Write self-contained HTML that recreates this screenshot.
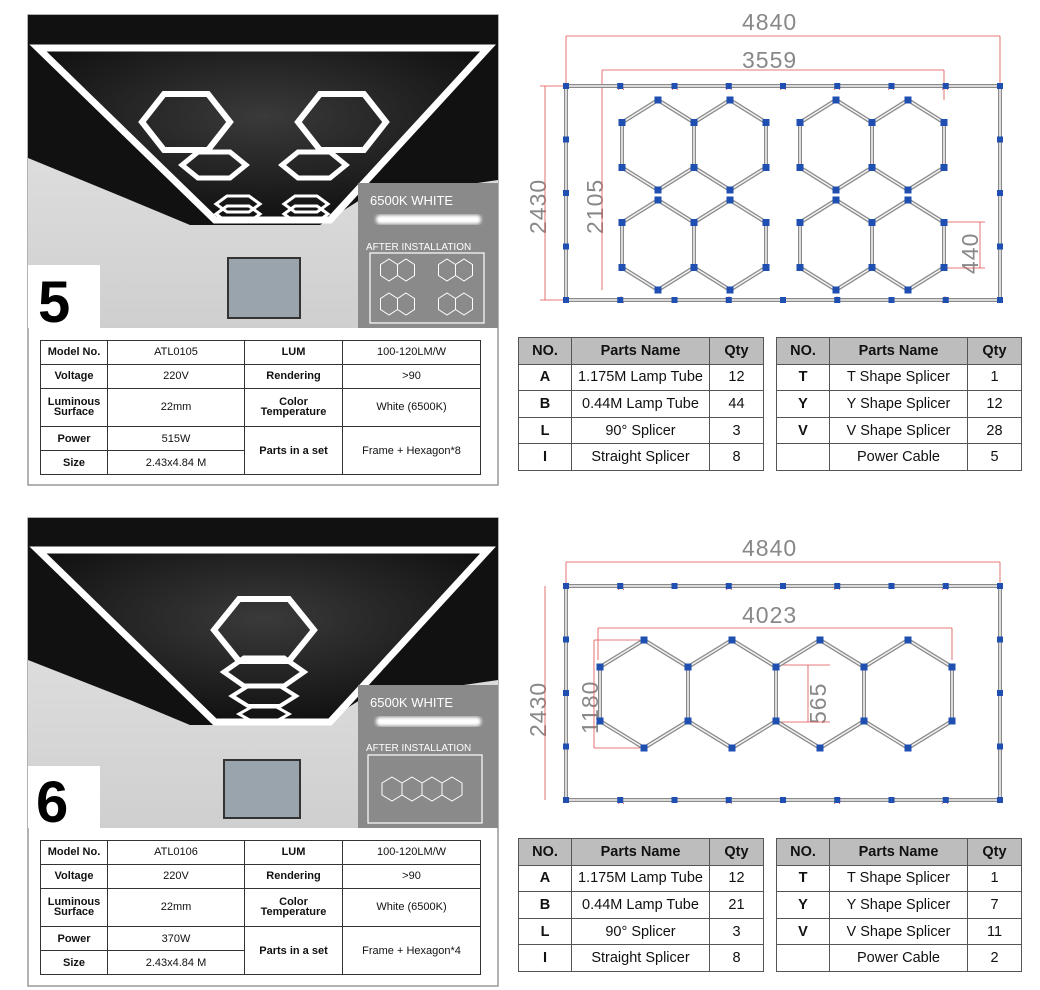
<!DOCTYPE html>
<html><head><meta charset="utf-8">
<style>
body{margin:0;width:1040px;height:990px;background:#fff;position:relative;overflow:hidden;font-family:"Liberation Sans",sans-serif}
svg{position:absolute;left:0;top:0}
table{border-collapse:collapse;position:absolute;font-family:"Liberation Sans",sans-serif}
.pt td,.pt th{border:1px solid #555;text-align:center;font-size:14.5px;color:#111;padding:0}
.pt th{background:#bdbdbd;font-weight:bold}
.st td{border:1px solid #333;text-align:center;font-size:11px;padding:0;color:#111}
.st td.b{font-weight:bold}
</style></head><body>
<svg width="1040" height="990" xmlns="http://www.w3.org/2000/svg" font-family="Liberation Sans, sans-serif">
<defs>
<linearGradient id="wall" x1="0" x2="0" y1="0" y2="1"><stop offset="0" stop-color="#e8e8e8"/><stop offset="1" stop-color="#cfcfcf"/></linearGradient>
<radialGradient id="ceil" cx="0.5" cy="0.4" r="0.6"><stop offset="0" stop-color="#3a3a3a"/><stop offset="1" stop-color="#111"/></radialGradient>
<filter id="gl"><feGaussianBlur stdDeviation="1.5"/></filter>
</defs>
<!-- panel 1 -->
<rect x="28" y="15" width="470" height="470" fill="#fff" stroke="#999" stroke-width="1.5"/>
<rect x="28" y="15" width="470" height="313" fill="url(#wall)"/>
<polygon points="28,15 498,15 498,180 360,200 320,225 190,225 130,200 28,158" fill="#111"/>
<polygon points="38,48 488,48 330,220 215,220" fill="url(#ceil)" stroke="#fff" stroke-width="7"/>
<rect x="358" y="183" width="140" height="145" fill="#8a8a8a"/>
<text x="370" y="205" font-size="13" fill="#fff">6500K WHITE</text>
<rect x="376" y="215" width="105" height="9" rx="4" fill="#fff" filter="url(#gl)"/>
<text x="366" y="250" font-size="10" fill="#fff">AFTER INSTALLATION</text>
<rect x="370" y="253" width="114" height="70" fill="none" stroke="#fff" stroke-width="1.2"/>
<rect x="228" y="258" width="72" height="60" fill="#9aa4ad" stroke="#333" stroke-width="2"/>
<rect x="28" y="265" width="72" height="63" fill="#fff"/>
<text x="38" y="322" font-size="58" font-weight="bold" fill="#000">5</text>
<!-- panel 2 -->
<rect x="28" y="518" width="470" height="468" fill="#fff" stroke="#999" stroke-width="1.5"/>
<rect x="28" y="518" width="470" height="310" fill="url(#wall)"/>
<polygon points="28,518 498,518 498,680 360,700 320,725 190,725 130,700 28,660" fill="#111"/>
<polygon points="38,550 488,550 330,722 215,722" fill="url(#ceil)" stroke="#fff" stroke-width="7"/>
<rect x="358" y="685" width="140" height="143" fill="#8a8a8a"/>
<text x="370" y="707" font-size="13" fill="#fff">6500K WHITE</text>
<rect x="376" y="717" width="105" height="9" rx="4" fill="#fff" filter="url(#gl)"/>
<text x="366" y="751" font-size="10" fill="#fff">AFTER INSTALLATION</text>
<rect x="368" y="755" width="114" height="68" fill="none" stroke="#fff" stroke-width="1.2"/>
<rect x="224" y="760" width="76" height="58" fill="#9aa4ad" stroke="#333" stroke-width="2"/>
<rect x="28" y="766" width="72" height="62" fill="#fff"/>
<text x="36" y="822" font-size="58" font-weight="bold" fill="#000">6</text>
<!-- drawing labels -->
<g fill="#888" font-size="23" letter-spacing="1">
<text x="742" y="30">4840</text>
<text x="742" y="68">3559</text>
<text x="742" y="556">4840</text>
<text x="742" y="623">4023</text>
<text transform="translate(546,234) rotate(-90)">2430</text>
<text transform="translate(603,234) rotate(-90)">2105</text>
<text transform="translate(978,274) rotate(-90)">440</text>
<text transform="translate(546,737) rotate(-90)">2430</text>
<text transform="translate(598,734) rotate(-90)">1180</text>
<text transform="translate(826,724) rotate(-90)">565</text>
</g>
<g stroke="#e05050" stroke-width="0.8" fill="none">
<path d="M566,36H1000M566,36V86M1000,36V86"/>
<path d="M602,70H944M602,70V100M944,70V100"/>
<path d="M545,86V300M540,86H566M540,300H566"/>
<path d="M602,100V290"/>
<path d="M980,222V268M944,222H985M944,268H985"/>
<path d="M566,562H1000M566,562V586M1000,562V586"/>
<path d="M598,628H952M598,628V660M952,628V660"/>
<path d="M545,586V800"/>
<path d="M594,640V748M594,640H640M594,748H640"/>
<path d="M808,665V722M776,665H830M776,722H830"/>
</g>
<g fill="#e05050" font-size="9">
<text x="618" y="90">A</text><text x="672" y="90">A</text><text x="726" y="90">A</text><text x="780" y="90">A</text><text x="834" y="90">A</text><text x="888" y="90">A</text><text x="942" y="90">A</text>
<text x="618" y="303">A</text><text x="726" y="303">A</text><text x="834" y="303">A</text><text x="942" y="303">A</text>
<text x="618" y="590">A</text><text x="726" y="590">A</text><text x="834" y="590">A</text><text x="942" y="590">A</text>
<text x="618" y="804">A</text><text x="726" y="804">A</text><text x="834" y="804">A</text><text x="942" y="804">A</text>
</g>
<g id="g"></g>
</svg>

<table class="st" style="left:40px;top:340px;width:441px;height:135px">
<tr><td class="b" style="width:66px">Model No.</td><td style="width:136px">ATL0105</td><td class="b" style="width:97px">LUM</td><td>100-120LM/W</td></tr>
<tr><td class="b">Voltage</td><td>220V</td><td class="b">Rendering</td><td>&gt;90</td></tr>
<tr><td class="b" style="line-height:10px">Luminous<br>Surface</td><td>22mm</td><td class="b" style="line-height:10px">Color<br>Temperature</td><td>White (6500K)</td></tr>
<tr><td class="b">Power</td><td>515W</td><td class="b" rowspan="2">Parts in a set</td><td rowspan="2">Frame + Hexagon*8</td></tr>
<tr><td class="b">Size</td><td>2.43x4.84 M</td></tr>
</table>
<table class="st" style="left:40px;top:840px;width:441px;height:135px">
<tr><td class="b" style="width:66px">Model No.</td><td style="width:136px">ATL0106</td><td class="b" style="width:97px">LUM</td><td>100-120LM/W</td></tr>
<tr><td class="b">Voltage</td><td>220V</td><td class="b">Rendering</td><td>&gt;90</td></tr>
<tr><td class="b" style="line-height:10px">Luminous<br>Surface</td><td>22mm</td><td class="b" style="line-height:10px">Color<br>Temperature</td><td>White (6500K)</td></tr>
<tr><td class="b">Power</td><td>370W</td><td class="b" rowspan="2">Parts in a set</td><td rowspan="2">Frame + Hexagon*4</td></tr>
<tr><td class="b">Size</td><td>2.43x4.84 M</td></tr>
</table>

<table class="pt" style="left:518px;top:337px;width:246px;height:134px">
<tr><th style="width:52px">NO.</th><th>Parts Name</th><th style="width:53px">Qty</th></tr>
<tr><td><b>A</b></td><td>1.175M Lamp Tube</td><td>12</td></tr>
<tr><td><b>B</b></td><td>0.44M Lamp Tube</td><td>44</td></tr>
<tr><td><b>L</b></td><td>90° Splicer</td><td>3</td></tr>
<tr><td><b>I</b></td><td>Straight Splicer</td><td>8</td></tr>
</table>
<table class="pt" style="left:776px;top:337px;width:246px;height:134px">
<tr><th style="width:52px">NO.</th><th>Parts Name</th><th style="width:53px">Qty</th></tr>
<tr><td><b>T</b></td><td>T Shape Splicer</td><td>1</td></tr>
<tr><td><b>Y</b></td><td>Y Shape Splicer</td><td>12</td></tr>
<tr><td><b>V</b></td><td>V Shape Splicer</td><td>28</td></tr>
<tr><td></td><td>Power Cable</td><td>5</td></tr>
</table>
<table class="pt" style="left:518px;top:838px;width:246px;height:134px">
<tr><th style="width:52px">NO.</th><th>Parts Name</th><th style="width:53px">Qty</th></tr>
<tr><td><b>A</b></td><td>1.175M Lamp Tube</td><td>12</td></tr>
<tr><td><b>B</b></td><td>0.44M Lamp Tube</td><td>21</td></tr>
<tr><td><b>L</b></td><td>90° Splicer</td><td>3</td></tr>
<tr><td><b>I</b></td><td>Straight Splicer</td><td>8</td></tr>
</table>
<table class="pt" style="left:776px;top:838px;width:246px;height:134px">
<tr><th style="width:52px">NO.</th><th>Parts Name</th><th style="width:53px">Qty</th></tr>
<tr><td><b>T</b></td><td>T Shape Splicer</td><td>1</td></tr>
<tr><td><b>Y</b></td><td>Y Shape Splicer</td><td>7</td></tr>
<tr><td><b>V</b></td><td>V Shape Splicer</td><td>11</td></tr>
<tr><td></td><td>Power Cable</td><td>2</td></tr>
</table>

<script>
var g=document.getElementById('g'),out='';
function pointy(cx,cy,w,h){return [[cx,cy-h/2],[cx+w/2,cy-h/4],[cx+w/2,cy+h/4],[cx,cy+h/2],[cx-w/2,cy+h/4],[cx-w/2,cy-h/4]];}
function flat(cx,cy,w,h){return [[cx-w/4,cy-h/2],[cx+w/4,cy-h/2],[cx+w/2,cy],[cx+w/4,cy+h/2],[cx-w/4,cy+h/2],[cx-w/2,cy]];}
function ps(p){return p.map(function(a){return a.join(',')}).join(' ');}
function dhex(cx,cy,w,h){var p=pointy(cx,cy,w,h);
 out+='<polygon points="'+ps(p)+'" fill="none" stroke="#8a8a8a" stroke-width="4"/><polygon points="'+ps(p)+'" fill="none" stroke="#f4f4f4" stroke-width="1.5"/>';
 p.forEach(function(a){out+='<rect x="'+(a[0]-3.5)+'" y="'+(a[1]-3.5)+'" width="7" height="7" fill="#1f4fb0"/>';});}
function frame(x,y,w,h){out+='<rect x="'+x+'" y="'+y+'" width="'+w+'" height="'+h+'" fill="none" stroke="#8a8a8a" stroke-width="4"/><rect x="'+x+'" y="'+y+'" width="'+w+'" height="'+h+'" fill="none" stroke="#f4f4f4" stroke-width="1.5"/>';
 for(var i=0;i<=8;i++){var xx=x+w*i/8;out+='<rect x="'+(xx-3)+'" y="'+(y-3)+'" width="6" height="6" fill="#1f4fb0"/><rect x="'+(xx-3)+'" y="'+(y+h-3)+'" width="6" height="6" fill="#1f4fb0"/>';}
 for(var j=0;j<=4;j++){var yy=y+h*j/4;out+='<rect x="'+(x-3)+'" y="'+(yy-3)+'" width="6" height="6" fill="#1f4fb0"/><rect x="'+(x+w-3)+'" y="'+(yy-3)+'" width="6" height="6" fill="#1f4fb0"/>';}}
frame(566,86,434,214);
[658,730,836,908].forEach(function(c){dhex(c,145,72,90);dhex(c,245,72,90);});
frame(566,586,434,214);
[644,732,820,908].forEach(function(c){dhex(c,694,88,108);});
function wh(p,sw){out+='<polygon points="'+ps(p)+'" fill="none" stroke="#fff" stroke-width="'+sw+'"/>';}
wh(flat(186,122,88,56),6);wh(flat(214,165,64,26),5);
wh(flat(342,122,88,56),6);wh(flat(314,165,64,26),5);
wh(flat(238,204,44,16),3);wh(flat(238,214,44,16),3);
wh(flat(306,204,44,16),3);wh(flat(306,214,44,16),3);
wh(flat(264,630,100,62),6);wh(flat(264,672,80,28),5);wh(flat(264,696,64,20),4);wh(flat(264,714,50,14),3);
function sh(p){out+='<polygon points="'+ps(p)+'" fill="none" stroke="#fff" stroke-width="1"/>';}
[[389,270],[447,270],[389,304],[447,304]].forEach(function(c){sh(pointy(c[0],c[1],17,22));sh(pointy(c[0]+17,c[1],17,22));});
[392,412,432,452].forEach(function(c){sh(pointy(c,789,20,24));});
g.innerHTML=out;
</script>
</body></html>
